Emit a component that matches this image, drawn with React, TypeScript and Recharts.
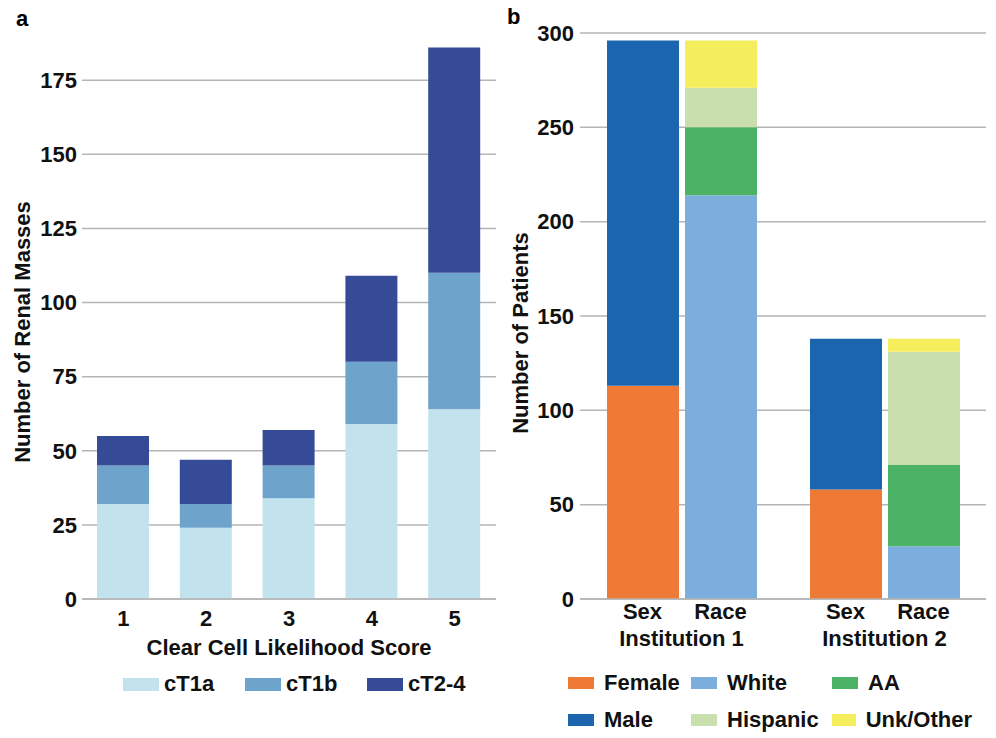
import React from "react";
import { BarChart, Bar, XAxis, YAxis, CartesianGrid, Legend } from "recharts";

const FONT = '"Liberation Sans", Arial, sans-serif';

// panel a
const scores = ["1", "2", "3", "4", "5"];
const cT1a = [32, 24, 34, 59, 64];
const cT1b = [13, 8, 11, 21, 46];
const cT24 = [10, 15, 12, 29, 76];
const massTicks = [0, 25, 50, 75, 100, 125, 150, 175];

// panel b
const institutions = ["Institution 1", "Institution 2"];
const female = [113, 58];
const male = [183, 80];
const white = [214, 28];
const aa = [36, 43];
const hispanic = [21, 60];
const unkOther = [25, 7];
const patientTicks = [0, 50, 100, 150, 200, 250, 300];

const massData = scores.map((s, i) => ({
  score: s,
  cT1a: cT1a[i],
  cT1b: cT1b[i],
  cT24: cT24[i],
}));

const patientData = institutions.map((inst, i) => ({
  inst,
  Female: female[i],
  Male: male[i],
  White: white[i],
  AA: aa[i],
  Hispanic: hispanic[i],
  Unk: unkOther[i],
}));

const C = {
  cT1a: "#c2e3ee",
  cT1b: "#6ea4cc",
  cT24: "#364b98",
  female: "#ee7a36",
  male: "#1b64ae",
  white: "#7caedd",
  aa: "#4cb265",
  hispanic: "#c9e0ae",
  unk: "#f5ee5c",
};

const GRID = "#b5b5b5";
const FS = 22;
const tickStyle = { fill: "#111", fontSize: FS, fontWeight: 700, fontFamily: FONT };

const massLegend = [
  { label: "cT1a", color: C.cT1a },
  { label: "cT1b", color: C.cT1b },
  { label: "cT2-4", color: C.cT24 },
];

const patientLegend = [
  { label: "Female", color: C.female },
  { label: "White", color: C.white },
  { label: "AA", color: C.aa },
  { label: "Male", color: C.male },
  { label: "Hispanic", color: C.hispanic },
  { label: "Unk/Other", color: C.unk },
];

function MassLegend() {
  return (
    <div style={{ display: "flex", fontFamily: FONT, fontWeight: 700, fontSize: FS, color: "#111" }}>
      {massLegend.map((it) => (
        <div key={it.label} style={{ width: 122, display: "flex", alignItems: "center" }}>
          <span style={{ width: 36, height: 13, background: it.color, marginRight: 5 }} />
          {it.label}
        </div>
      ))}
    </div>
  );
}

function PatientLegend() {
  return (
    <div
      style={{
        display: "grid",
        gridTemplateColumns: "123px 141px 140px",
        rowGap: 12,
        fontFamily: FONT,
        fontWeight: 700,
        fontSize: FS,
        color: "#111",
      }}
    >
      {patientLegend.map((it) => (
        <div key={it.label} style={{ display: "flex", alignItems: "center", height: 25 }}>
          <span style={{ width: 26, height: 12, background: it.color, marginRight: 10 }} />
          {it.label}
        </div>
      ))}
    </div>
  );
}

function YTitle({ viewBox, text, dx, cy }: any) {
  const x = viewBox.x + dx;
  return (
    <text
      x={x}
      y={cy}
      transform={`rotate(-90, ${x}, ${cy})`}
      textAnchor="middle"
      dominantBaseline="central"
      style={{ ...tickStyle }}
    >
      {text}
    </text>
  );
}

function InstTick({ x, y, payload }: any) {
  return (
    <g style={tickStyle as any}>
      <text x={x - 39} y={y + 20} textAnchor="middle" fill="#111">
        Sex
      </text>
      <text x={x + 39} y={y + 20} textAnchor="middle" fill="#111">
        Race
      </text>
      <text x={x} y={y + 47} textAnchor="middle" fill="#111">
        {payload.value}
      </text>
    </g>
  );
}

export default function App() {
  return (
    <div style={{ position: "absolute", left: 0, top: 0, width: 996, height: 738, background: "#fff" }}>
      <div style={{ position: "absolute", left: 16, top: 6, fontFamily: FONT, fontWeight: 700, fontSize: FS }}>a</div>
      <div style={{ position: "absolute", left: 507, top: 4, fontFamily: FONT, fontWeight: 700, fontSize: FS }}>b</div>

      <div style={{ position: "absolute", left: 0, top: 0 }}>
        <BarChart
          width={500}
          height={738}
          data={massData}
          margin={{ top: 6, right: 4, bottom: 109, left: 0 }}
          barSize={52}
        >
          <CartesianGrid
            vertical={false}
            horizontalValues={massTicks}
            stroke={GRID}
            strokeWidth={1.5}
          />
          <XAxis
            dataKey="score"
            tick={tickStyle}
            tickLine={false}
            axisLine={{ stroke: GRID, strokeWidth: 1.5 }}
            tickSize={8}
            tickMargin={3}
            label={{
              content: ({ viewBox }: any) => (
                <text
                  x={viewBox.x + viewBox.width / 2}
                  y={655}
                  textAnchor="middle"
                  style={tickStyle}
                >
                  Clear Cell Likelihood Score
                </text>
              ),
            }}
          />
          <YAxis
            width={82}
            domain={[0, 200]}
            ticks={massTicks}
            tick={tickStyle}
            tickLine={false}
            axisLine={false}
            tickSize={3}
            tickMargin={2}
            label={{
              content: ({ viewBox }: any) => (
                <YTitle viewBox={viewBox} text="Number of Renal Masses" dx={22} cy={332} />
              ),
            }}
          />
          <Legend
            layout="horizontal"
            verticalAlign="middle"
            align="center"
            content={() => <MassLegend />}
            wrapperStyle={{ position: "absolute", top: 671, left: 123, width: 380 }}
          />
          <Bar dataKey="cT1a" stackId="m" fill={C.cT1a} isAnimationActive={false} />
          <Bar dataKey="cT1b" stackId="m" fill={C.cT1b} isAnimationActive={false} />
          <Bar dataKey="cT24" stackId="m" fill={C.cT24} isAnimationActive={false} />
        </BarChart>
      </div>

      <div style={{ position: "absolute", left: 500, top: 0 }}>
        <BarChart
          width={496}
          height={738}
          data={patientData}
          margin={{ top: 33, right: 10, bottom: 109, left: 0 }}
          barSize={72}
          barGap={6}
        >
          <CartesianGrid
            vertical={false}
            horizontalValues={patientTicks}
            stroke={GRID}
            strokeWidth={1.5}
          />
          <XAxis
            dataKey="inst"
            tick={<InstTick />}
            tickLine={false}
            axisLine={{ stroke: GRID, strokeWidth: 1.5 }}
            tickSize={0}
            tickMargin={0}
            interval={0}
          />
          <YAxis
            width={80}
            domain={[0, 300]}
            ticks={patientTicks}
            tick={tickStyle}
            tickLine={false}
            axisLine={false}
            tickSize={4}
            tickMargin={2}
            label={{
              content: ({ viewBox }: any) => (
                <YTitle viewBox={viewBox} text="Number of Patients" dx={20} cy={333} />
              ),
            }}
          />
          <Legend
            layout="horizontal"
            verticalAlign="middle"
            align="center"
            content={() => <PatientLegend />}
            wrapperStyle={{ position: "absolute", top: 670, left: 68, width: 428 }}
          />
          <Bar dataKey="Female" stackId="sex" fill={C.female} isAnimationActive={false} />
          <Bar dataKey="Male" stackId="sex" fill={C.male} isAnimationActive={false} />
          <Bar dataKey="White" stackId="race" fill={C.white} isAnimationActive={false} />
          <Bar dataKey="AA" stackId="race" fill={C.aa} isAnimationActive={false} />
          <Bar dataKey="Hispanic" stackId="race" fill={C.hispanic} isAnimationActive={false} />
          <Bar dataKey="Unk" stackId="race" fill={C.unk} isAnimationActive={false} />
        </BarChart>
      </div>
    </div>
  );
}
